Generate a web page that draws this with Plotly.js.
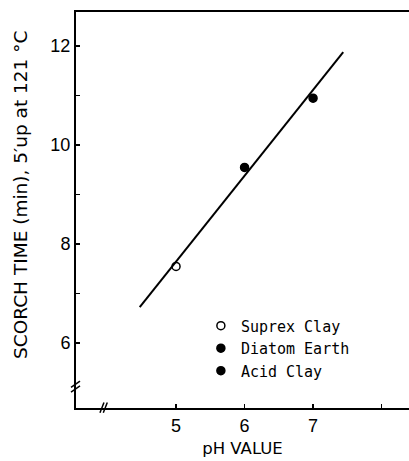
<!DOCTYPE html>
<html>
<head>
<meta charset="utf-8">
<script src="https://cdn.plot.ly/plotly-3.0.1.min.js"></script>
<style>html,body{margin:0;padding:0;background:#fff;}#chart{width:409px;height:461px;}</style>
</head>
<body>
<div id="chart"></div>
<script>
// Data
const seriesNames = ["Suprex Clay", "Diatom Earth", "Acid Clay"];
const phValues = [5, 6, 7];
const scorchTimes = [7.55, 9.55, 10.95];
const fitX = [4.47, 7.44];
const fitY = [6.73, 11.88];
const xTickVals = [5, 6, 7, 8];
const xTickText = ["5", "6", "7", ""];
const yTickVals = [6, 7, 8, 9, 10, 11, 12];
const yTickText = ["6", "", "8", "", "10", "", "12"];
const yTitle = "SCORCH TIME (min), 5\u2032up at 121 \u00B0C";
const xTitle = "pH VALUE";

const symbols = ["circle-open", "circle", "circle-dot"];
const font = "Liberation Sans, Arial, sans-serif";
const titleFont = "DejaVu Sans, sans-serif";

const traces = [{
  x: fitX, y: fitY, mode: "lines", type: "scatter",
  line: {color: "#000", width: 2}, showlegend: false, hoverinfo: "skip"
}];
for (let i = 0; i < seriesNames.length; i++) {
  traces.push({
    x: [phValues[i]], y: [scorchTimes[i]], mode: "markers", type: "scatter",
    name: seriesNames[i], legendgroup: "g" + i,
    marker: {symbol: symbols[i], size: 8, color: "#000",
             line: {color: "#000", width: 1.5}}
  });
}

const layout = {
  width: 409, height: 461,
  margin: {l: 76, r: 0, t: 12, b: 53},
  paper_bgcolor: "#fff", plot_bgcolor: "#fff",
  showlegend: true,
  legend: {x: 0.375, y: 0.249, xanchor: "left", yanchor: "top",
           bgcolor: "rgba(0,0,0,0)", borderwidth: 0,
           font: {family: "DejaVu Sans Mono, monospace", size: 15, color: "#000"},
           itemwidth: 30, tracegroupgap: 0},
  xaxis: {
    range: [3.54, 8.4], showgrid: false, zeroline: false,
    showline: true, linecolor: "#000", linewidth: 2, mirror: true,
    ticks: "inside", ticklen: 4, tickwidth: 1.5, tickcolor: "#000",
    tickvals: xTickVals, ticktext: xTickText,
    tickfont: {family: font, size: 18, color: "#000"},
    title: {text: xTitle, font: {family: titleFont, size: 16.5, color: "#000"}, standoff: 8}
  },
  yaxis: {
    range: [4.69, 12.69], showgrid: false, zeroline: false,
    showline: true, linecolor: "#000", linewidth: 2,
    ticks: "inside", ticklen: 4, tickwidth: 1.5, tickcolor: "#000",
    tickvals: yTickVals, ticktext: yTickText,
    tickfont: {family: font, size: 18, color: "#000"}
  },
  annotations: [{
    text: yTitle, xref: "paper", yref: "paper", x: 0, y: 0.538,
    xanchor: "center", yanchor: "middle", xshift: -55, textangle: -90,
    showarrow: false, font: {family: titleFont, size: 18.5, color: "#000"}
  }],
  shapes: [
    // axis break marks on y axis
    {type: "line", xref: "paper", yref: "paper", x0: -0.015, x1: 0.012, y0: 0.052, y1: 0.068, line: {color: "#000", width: 1.5}},
    {type: "line", xref: "paper", yref: "paper", x0: -0.015, x1: 0.012, y0: 0.040, y1: 0.056, line: {color: "#000", width: 1.5}},
    // axis break marks on x axis
    {type: "line", xref: "paper", yref: "paper", x0: 0.072, x1: 0.084, y0: -0.012, y1: 0.014, line: {color: "#000", width: 1.5}},
    {type: "line", xref: "paper", yref: "paper", x0: 0.082, x1: 0.094, y0: -0.012, y1: 0.014, line: {color: "#000", width: 1.5}}
  ]
};

Plotly.newPlot("chart", traces, layout, {displayModeBar: false, staticPlot: true});
</script>
</body>
</html>
